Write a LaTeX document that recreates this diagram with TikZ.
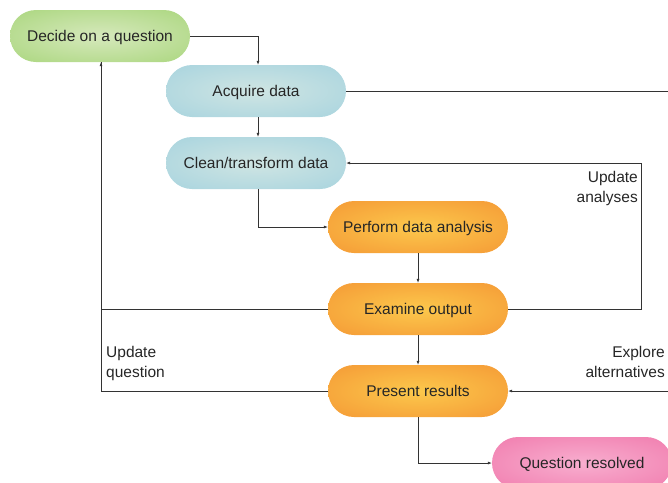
\documentclass[tikz,border=0pt]{standalone}
\usepackage{fontspec}
\setmainfont{Liberation Sans}
\usetikzlibrary{arrows.meta, positioning, calc}

% pill colours, edge and centre
\definecolor{greenout}{HTML}{9CD06A}
\definecolor{greenin}{HTML}{D6E9BC}
\definecolor{blueout}{HTML}{9BCEDD}
\definecolor{bluein}{HTML}{CFE5E3}
\definecolor{orangeout}{HTML}{F28A2E}
\definecolor{orangein}{HTML}{FCC84C}
\definecolor{pinkout}{HTML}{EE6CA3}
\definecolor{pinkin}{HTML}{F8AECF}
\definecolor{wire}{HTML}{333333}

\pgfdeclareradialshading{greenpill}{\pgfpointorigin}{color(0bp)=(greenin); color(48bp)=(greenout); color(50bp)=(greenout)}
\pgfdeclareradialshading{bluepill}{\pgfpointorigin}{color(0bp)=(bluein); color(48bp)=(blueout); color(50bp)=(blueout)}
\pgfdeclareradialshading{orangepill}{\pgfpointorigin}{color(0bp)=(orangein); color(48bp)=(orangeout); color(50bp)=(orangeout)}
\pgfdeclareradialshading{pinkpill}{\pgfpointorigin}{color(0bp)=(pinkin); color(48bp)=(pinkout); color(50bp)=(pinkout)}

\tikzset{
  pill/.style={rectangle, rounded corners=26pt, minimum width=180pt,
    minimum height=52pt, inner sep=0pt, text height=12pt, text depth=2pt,
    font=\fontsize{15.5}{18}\selectfont, text=black!85},
  link/.style={draw=wire, line width=0.6pt},
  arr/.style={link, -{Latex[length=4pt,width=3pt]}},
  note/.style={font=\fontsize{15.5}{20}\selectfont, text=black!85, inner sep=0pt}
}

\begin{document}
\begin{tikzpicture}[x=1pt, y=-1pt]
  \path[use as bounding box] (0,0) rectangle (668,482);
  \clip (0,0) rectangle (668,482);

  % steps
  \node[pill, shading=greenpill]  (decide)   at (100,36)  {Decide on a question};
  \node[pill, shading=bluepill]   (acquire)  at (256,91)  {Acquire data};
  \node[pill, shading=bluepill]   (clean)    at (256,163) {Clean/transform data};
  \node[pill, shading=orangepill] (perform)  at (418,227) {Perform data analysis};
  \node[pill, shading=orangepill] (examine)  at (418,309) {Examine output};
  \node[pill, shading=orangepill] (present)  at (418,391) {Present results};
  \node[pill, shading=pinkpill]   (resolved) at (582,463) {Question resolved};

  % forward path
  \draw[arr] (decide.east) -| ($(acquire.north)+(2,0)$);
  \draw[arr] ($(acquire.south)+(2,0)$) -- ($(clean.north)+(2,0)$);
  \draw[arr] ($(clean.south)+(2,0)$) |- (perform.west);
  \draw[arr] (perform.south) -- (examine.north);
  \draw[arr] (examine.south) -- (present.north);
  \draw[arr] (present.south) |- (resolved.west);

  % loops back
  \coordinate (aright) at (641,309);
  \coordinate (far) at (680,391);
  \draw[link] (present.west) -| ($(decide.south)+(1,0)$);
  \draw[arr] (examine.west) -| ($(decide.south)+(1,0)$);
  \draw[arr] (examine.east) -- (aright) |- (clean.east);
  \draw[link] (acquire.east) -| (far);
  \draw[arr] (far) -- (present.east);

  \node[note, align=left, anchor=north west]  (qnote) at (106,346) {Update\\question};
  \node[note, align=right, anchor=north east] (anote) at (638,171) {Update\\analyses};
  \node[note, align=right, anchor=north east] (enote) at (665,346) {Explore\\alternatives};
\end{tikzpicture}
\end{document}
